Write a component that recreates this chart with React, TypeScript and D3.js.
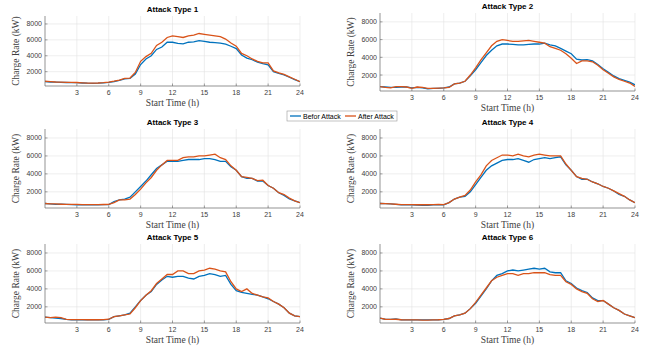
import React from 'react';
import * as d3 from 'd3';

// sample times (h), half-hour steps
const hours = d3.range(0, 24.001, 0.5);
const xTicks = [3, 6, 9, 12, 15, 18, 21, 24];
const yTicks = [2000, 4000, 6000, 8000];
const titles = ['Attack Type 1', 'Attack Type 2', 'Attack Type 3', 'Attack Type 4', 'Attack Type 5', 'Attack Type 6'];
const seriesNames = ['Befor Attack', 'After Attack'];

const before1 = [750, 700, 680, 650, 640, 630, 620, 580, 550, 540, 560, 600, 650, 750, 900, 1100, 1150, 1700, 2900, 3600, 4000, 4800, 5100, 5700, 5700, 5550, 5500, 5700, 5750, 5900, 5800, 5700, 5650, 5600, 5450, 5200, 4900, 4100, 3700, 3500, 3200, 3000, 2850, 2000, 1800, 1600, 1300, 1000, 750];
const after1 = [800, 750, 700, 680, 660, 650, 640, 600, 570, 560, 580, 620, 680, 800, 950, 1150, 1200, 1900, 3300, 3900, 4300, 5300, 5700, 6300, 6500, 6400, 6300, 6500, 6600, 6800, 6700, 6600, 6500, 6400, 6100, 5600, 5200, 4300, 4000, 3600, 3300, 3100, 3100, 2100, 1850, 1650, 1350, 1050, 750];
const before2 = [700, 650, 600, 620, 650, 650, 550, 600, 550, 450, 500, 500, 550, 650, 1000, 1100, 1300, 1900, 2600, 3400, 4200, 4800, 5300, 5500, 5500, 5450, 5400, 5400, 5450, 5500, 5500, 5600, 5400, 5300, 5000, 4700, 4400, 3800, 3700, 3750, 3600, 3200, 2700, 2300, 1900, 1600, 1400, 1200, 900];
const after2 = [700, 600, 550, 700, 700, 650, 500, 650, 600, 500, 500, 520, 550, 600, 1000, 1100, 1300, 2000, 2800, 3700, 4500, 5300, 5800, 6000, 5900, 5800, 5800, 5850, 5900, 5800, 5700, 5600, 5200, 5000, 4800, 4400, 3900, 3300, 3600, 3600, 3500, 3100, 2600, 2200, 1800, 1500, 1300, 1100, 700];
const before3 = [700, 650, 600, 620, 600, 580, 560, 560, 560, 560, 560, 570, 580, 900, 1100, 1200, 1400, 2000, 2600, 3200, 3900, 4600, 5000, 5400, 5400, 5400, 5500, 5600, 5600, 5600, 5700, 5700, 5600, 5400, 5400, 4800, 4400, 3700, 3500, 3500, 3200, 3200, 2700, 2400, 1900, 1600, 1200, 1000, 800];
const after3 = [700, 650, 650, 620, 600, 600, 600, 580, 580, 580, 580, 590, 600, 800, 1100, 1100, 1200, 1700, 2300, 3000, 3600, 4400, 5000, 5500, 5500, 5500, 5800, 5900, 5900, 6000, 6000, 6100, 6200, 5800, 5600, 4900, 4400, 3700, 3600, 3500, 3250, 3300, 2700, 2400, 1900, 1700, 1300, 1000, 800];
const before4 = [700, 680, 650, 600, 550, 550, 550, 520, 500, 500, 550, 550, 550, 800, 1200, 1400, 1500, 2000, 2800, 3600, 4400, 4900, 5200, 5500, 5600, 5600, 5700, 5500, 5300, 5600, 5700, 5800, 5700, 5800, 5900, 5000, 4400, 3700, 3400, 3400, 3100, 2900, 2600, 2400, 2100, 1700, 1500, 1100, 800];
const after4 = [700, 680, 650, 620, 580, 580, 570, 560, 560, 560, 580, 600, 580, 800, 1200, 1400, 1600, 2200, 3100, 3900, 4900, 5500, 5800, 6100, 6100, 6000, 6200, 6000, 5900, 6100, 6200, 6100, 6000, 6000, 6000, 5100, 4400, 3700, 3500, 3400, 3100, 2900, 2600, 2400, 2100, 1800, 1500, 1100, 800];
const before5 = [850, 800, 750, 700, 600, 550, 550, 550, 550, 540, 540, 560, 600, 900, 1000, 1100, 1300, 2000, 2700, 3300, 3700, 4500, 5000, 5400, 5300, 5400, 5400, 5200, 5100, 5400, 5500, 5700, 5600, 5400, 5500, 4500, 3800, 3600, 3500, 3400, 3300, 3100, 2900, 2600, 2300, 1900, 1300, 1000, 900];
const after5 = [850, 800, 850, 800, 600, 580, 570, 570, 560, 560, 560, 580, 620, 900, 1000, 1100, 1200, 1900, 2700, 3300, 3800, 4600, 5100, 5600, 5600, 6000, 6000, 5700, 5700, 6000, 6100, 6300, 6200, 6000, 5900, 4800, 4000, 3700, 4000, 3500, 3300, 3100, 3000, 2600, 2300, 1900, 1300, 1000, 900];
const before6 = [750, 600, 600, 650, 550, 550, 550, 550, 550, 550, 550, 560, 600, 700, 1000, 1100, 1300, 1800, 2400, 3200, 4000, 4900, 5500, 5700, 6000, 6100, 6000, 6100, 6200, 6300, 6200, 6300, 5900, 5800, 5800, 4900, 4600, 4100, 3800, 3600, 3000, 2700, 2700, 2300, 1900, 1600, 1200, 1000, 800];
const after6 = [750, 620, 600, 620, 560, 550, 540, 540, 530, 530, 540, 560, 600, 700, 1000, 1100, 1300, 1800, 2500, 3300, 4100, 4900, 5300, 5500, 5700, 5700, 5500, 5700, 5700, 5800, 5800, 5800, 5600, 5500, 5500, 4800, 4500, 4000, 3700, 3500, 2900, 2600, 2700, 2300, 1900, 1600, 1200, 1000, 800];

const beforeSeries = [before1, before2, before3, before4, before5, before6];
const afterSeries = [after1, after2, after3, after4, after5, after6];

const BLUE = '#0072BD';
const ORANGE = '#D95319';
const SANS = 'Helvetica, Arial, "Liberation Sans", sans-serif';
const SERIF = '"Liberation Serif", "Times New Roman", serif';

// axes boxes [left, right, top, bottom]
const boxes = [
  [45, 300, 16, 86],
  [380, 635, 13, 91],
  [45, 300, 129, 208],
  [380, 635, 129, 208],
  [45, 300, 244, 323],
  [380, 635, 244, 323],
];

function Panel({ idx }: { idx: number }) {
  const [l, r, t, b] = boxes[idx];
  const x = d3.scaleLinear().domain([0, 24]).range([l, r]);
  const y = d3.scaleLinear().domain([200, 9000]).range([b, t]);
  const line = d3
    .line<number>()
    .x((_, i) => x(hours[i]))
    .y((d) => y(d));
  const clipId = `clip${idx}`;

  return (
    <g>
      <defs>
        <clipPath id={clipId}>
          <rect x={l} y={t} width={r - l} height={b - t} />
        </clipPath>
      </defs>
      {/* grid */}
      {xTicks.map((v) => (
        <line key={'gx' + v} x1={x(v)} x2={x(v)} y1={t} y2={b} stroke="#e3e3e3" strokeWidth={0.6} />
      ))}
      {yTicks.map((v) => (
        <line key={'gy' + v} x1={l} x2={r} y1={y(v)} y2={y(v)} stroke="#e3e3e3" strokeWidth={0.6} />
      ))}
      {/* data */}
      <g clipPath={`url(#${clipId})`}>
        <path d={line(beforeSeries[idx]) || ''} fill="none" stroke={BLUE} strokeWidth={1.3} />
        <path d={line(afterSeries[idx]) || ''} fill="none" stroke={ORANGE} strokeWidth={1.3} />
      </g>
      {/* axes */}
      <line x1={l} x2={r} y1={b} y2={b} stroke="#666" strokeWidth={0.7} />
      <line x1={l} x2={l} y1={t} y2={b} stroke="#666" strokeWidth={0.7} />
      {xTicks.map((v) => (
        <g key={'tx' + v}>
          <line x1={x(v)} x2={x(v)} y1={b} y2={b - 2.5} stroke="#666" strokeWidth={0.6} />
          <text x={x(v)} y={b + 9} fontSize={7} fontFamily={SANS} fill="#404040" textAnchor="middle">
            {v}
          </text>
        </g>
      ))}
      {yTicks.map((v) => (
        <g key={'ty' + v}>
          <line x1={l} x2={l + 2.5} y1={y(v)} y2={y(v)} stroke="#666" strokeWidth={0.6} />
          <text x={l - 3} y={y(v) + 2.5} fontSize={7} fontFamily={SANS} fill="#404040" textAnchor="end">
            {v}
          </text>
        </g>
      ))}
      <text x={(l + r) / 2} y={t - 4} fontSize={8} fontWeight="bold" fontFamily={SANS} fill="#000" textAnchor="middle">
        {titles[idx]}
      </text>
      <text x={(l + r) / 2} y={b + 20} fontSize={9.5} fontFamily={SERIF} fill="#404040" textAnchor="middle">
        Start Time (h)
      </text>
      <text
        transform={`translate(${l - 26},${(t + b) / 2}) rotate(-90)`}
        fontSize={9.5}
        fontFamily={SERIF}
        fill="#404040"
        textAnchor="middle"
      >
        Charge Rate (kW)
      </text>
    </g>
  );
}

export default function App() {
  return (
    <svg
      width={660}
      height={352}
      style={{ position: 'fixed', left: 0, top: 0, background: '#fff' }}
    >
      <rect width={660} height={352} fill="#fff" />
      {titles.map((_, i) => (
        <Panel key={i} idx={i} />
      ))}
      {/* legend */}
      <g>
        <rect x={287} y={111} width={110} height={10} fill="#fff" stroke="#999" strokeWidth={0.6} />
        <line x1={290} x2={301} y1={116} y2={116} stroke={BLUE} strokeWidth={1.3} />
        <text x={303} y={118.5} fontSize={7} fontFamily={SANS} fill="#000">
          {seriesNames[0]}
        </text>
        <line x1={345} x2={356} y1={116} y2={116} stroke={ORANGE} strokeWidth={1.3} />
        <text x={358} y={118.5} fontSize={7} fontFamily={SANS} fill="#000">
          {seriesNames[1]}
        </text>
      </g>
    </svg>
  );
}
